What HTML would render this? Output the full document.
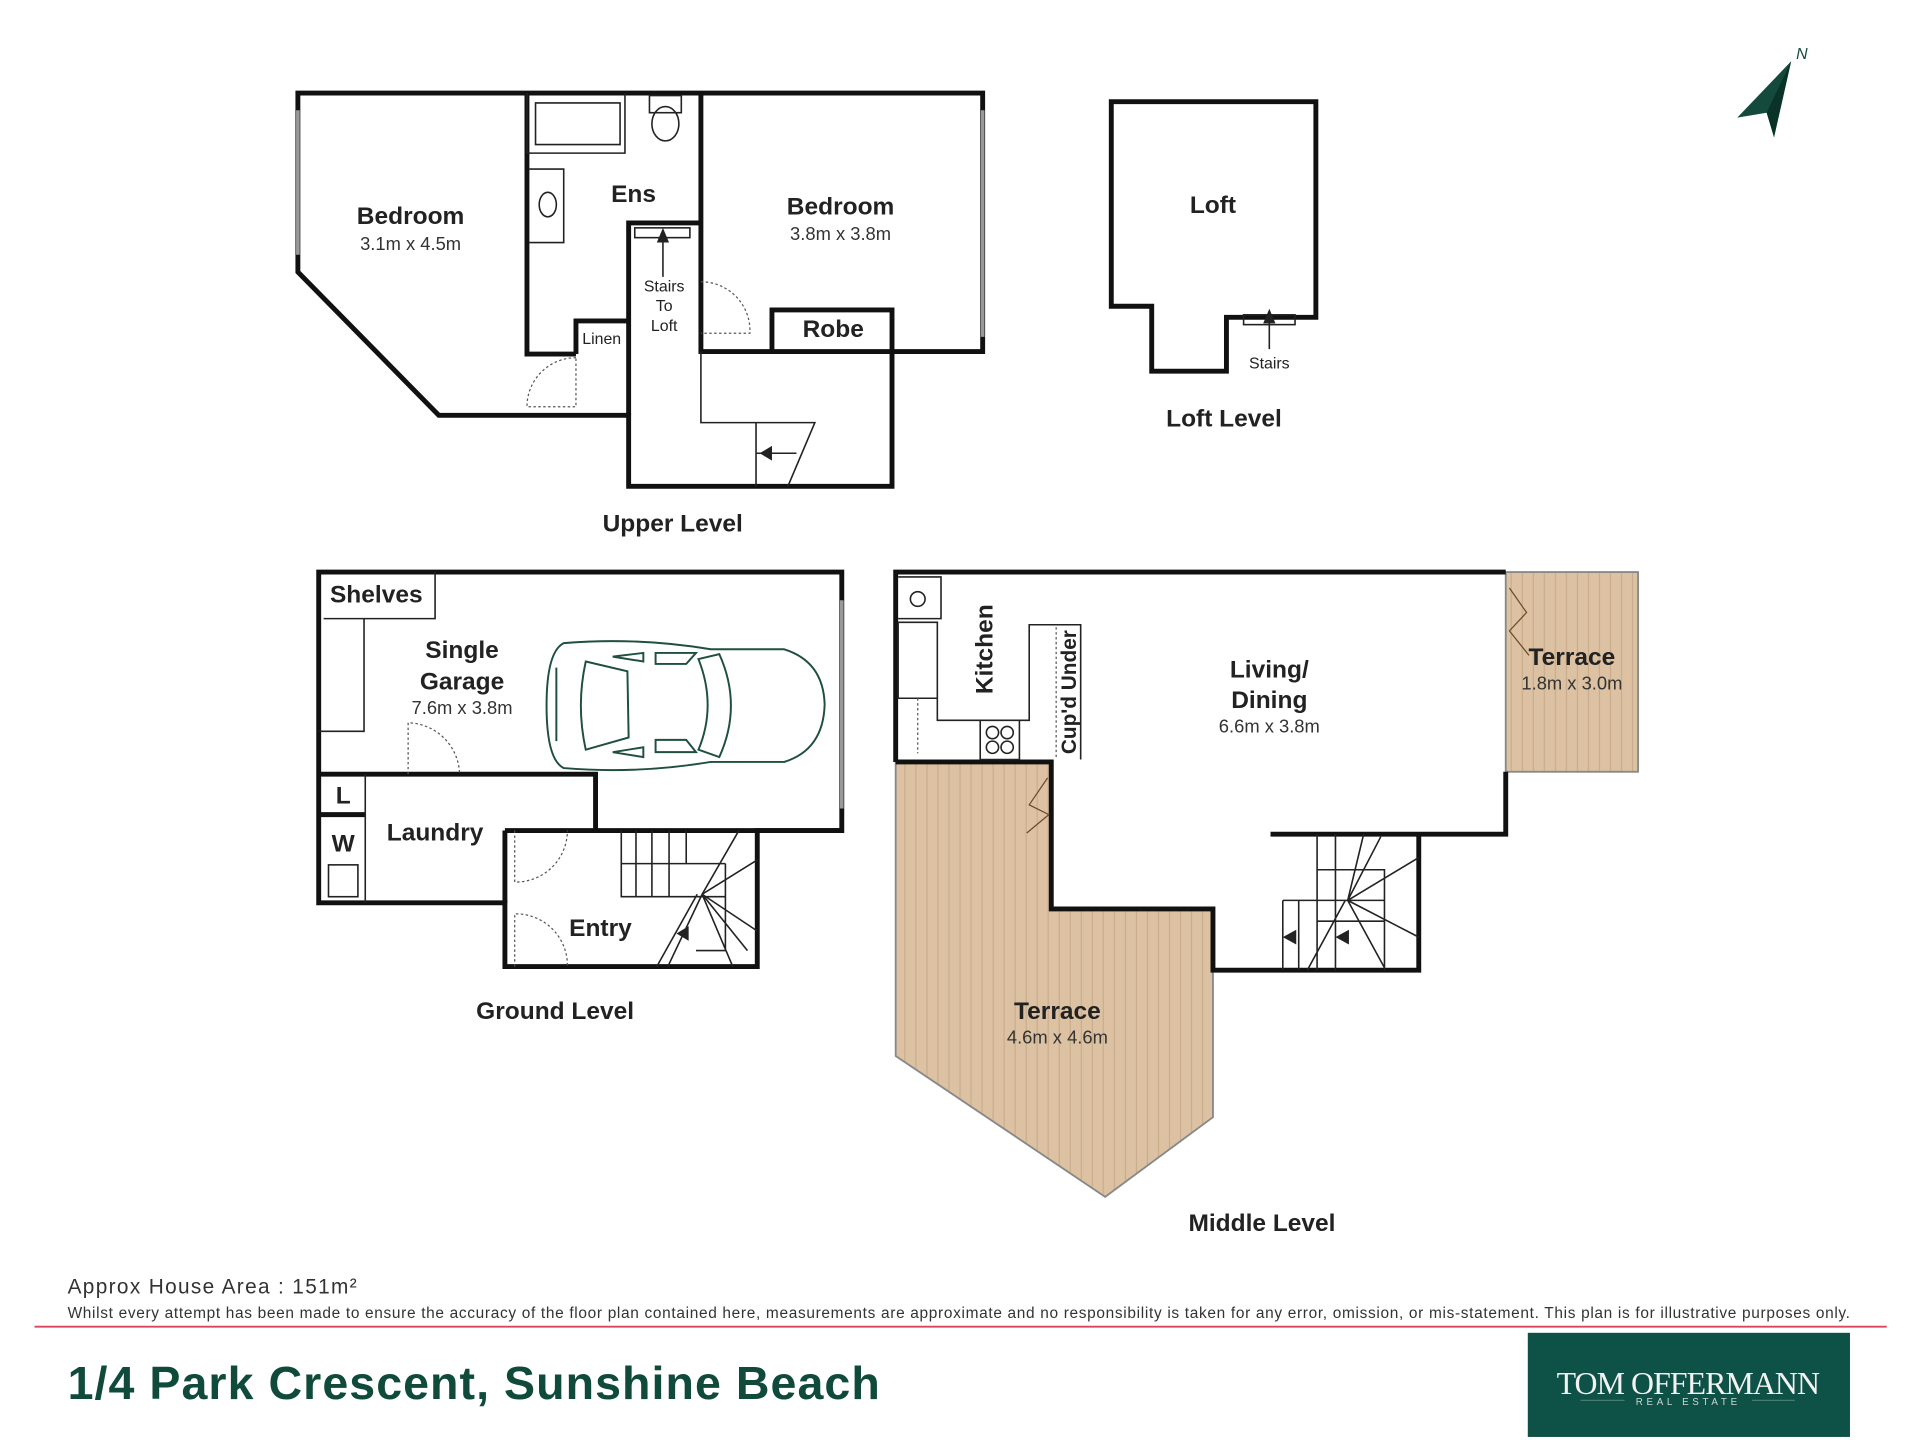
<!DOCTYPE html>
<html><head><meta charset="utf-8"><style>
html,body{margin:0;padding:0;background:#fff;width:1920px;height:1440px;overflow:hidden}
svg{display:block}
text{font-family:"Liberation Sans",sans-serif}
text.serif{font-family:"Liberation Serif",serif}
.w{fill:none;stroke:#111;stroke-width:4;stroke-linejoin:miter}
.t{fill:none;stroke:#222;stroke-width:1.3}
.d{fill:none;stroke:#555;stroke-width:1;stroke-dasharray:2 2}
.rl{font-size:20px;font-weight:bold;fill:#222;text-anchor:middle}
.dm{font-size:15px;fill:#333;text-anchor:middle}
.lv{font-size:20px;font-weight:bold;fill:#222;text-anchor:middle}
.car{fill:none;stroke:#1f4f3f;stroke-width:1.6}
</style></head><body>
<svg width="1920" height="1440" viewBox="0 0 1567 1175.5" xmlns="http://www.w3.org/2000/svg">
<defs>
<pattern id="deck" width="9" height="10" patternUnits="userSpaceOnUse">
<rect width="9" height="10" fill="#dcc2a2"/><line x1="0.5" y1="0" x2="0.5" y2="10" stroke="#c5a886" stroke-width="0.8"/>
</pattern>
</defs>

<!-- North arrow -->
<polygon points="1462,50 1418,96 1442,92 1448,112" fill="#134a3c"/>
<polygon points="1462,50 1442,92 1448,112" fill="#0a3328"/>
<text x="1466" y="48" font-size="13" font-style="italic" fill="#134a3c">N</text>

<!-- UPPER LEVEL -->
<path class="w" d="M243,76 H802 V287 H728 V397 H513 V339 H358 L243,222 Z"/>
<path class="w" d="M430,76 V289 H470 M513,339 V289 M572,76 V182 H513 V289 M572,182 V287 H630 M728,287 H630 V253 H728 V287"/>
<path class="w" d="M470,289 V262 H513"/>
<path class="t" d="M572,287 V345 H665 L643,397 M617,345 V397 M617,370 H650"/>
<polygon points="620,370 630,364 630,376" fill="#222"/>
<path class="t" d="M430,76 V125 H510 V76 M437,84 H506 V118 H437 Z M432,138 H460 V198 H432"/>
<ellipse cx="447" cy="167" rx="7" ry="10" class="t"/>
<ellipse cx="543" cy="101" rx="11" ry="14" class="t"/><rect x="530" y="78" width="26" height="14" class="t"/>
<rect x="518" y="186" width="45" height="8" class="t"/>
<line x1="541" y1="194" x2="541" y2="226" class="t"/><polygon points="541,186 536,198 546,198" fill="#222"/>
<path class="d" d="M572,230 A40,40 0 0 1 612,272 H572 M470,292 A40,40 0 0 0 430,332 H470 Z"/>
<line x1="243" y1="90" x2="243" y2="208" stroke="#999" stroke-width="3"/>
<line x1="802" y1="90" x2="802" y2="275" stroke="#999" stroke-width="3"/>
<text class="rl" x="335" y="183">Bedroom</text><text class="dm" x="335" y="204">3.1m x 4.5m</text>
<text class="rl" x="517" y="165">Ens</text>
<text class="rl" x="686" y="175">Bedroom</text><text class="dm" x="686" y="196">3.8m x 3.8m</text>
<text class="rl" x="680" y="275">Robe</text>
<text x="491" y="281" font-size="13" fill="#222" text-anchor="middle">Linen</text>
<text x="542" y="238" font-size="13" fill="#222" text-anchor="middle">Stairs</text>
<text x="542" y="254" font-size="13" fill="#222" text-anchor="middle">To</text>
<text x="542" y="270" font-size="13" fill="#222" text-anchor="middle">Loft</text>
<text class="lv" x="549" y="434">Upper Level</text>

<!-- LOFT -->
<path class="w" d="M907,83 H1074 V259 H1001 V303 H940 V250 H907 Z"/>
<rect x="1015" y="257" width="42" height="8" class="t"/>
<line x1="1036" y1="258" x2="1036" y2="285" class="t"/><polygon points="1036,252 1031,264 1041,264" fill="#222"/>
<text class="rl" x="990" y="174">Loft</text>
<text x="1036" y="301" font-size="13" fill="#222" text-anchor="middle">Stairs</text>
<text class="lv" x="999" y="348">Loft Level</text>

<!-- GROUND LEVEL -->
<path class="w" d="M260,467 H687 V678 H618 V789 H412 V737 H260 Z"/>
<path class="w" d="M260,632 H486 V678 M412,678 H687 M412,678 V737 M260,665 H298"/>
<path class="t" d="M260,597 H297 V505 H355 V467 M298,632 V737 M264,505 H355"/>
<path class="t" d="M507,678 V732 H592 M507,705 H592 M519,678 V732 M532,678 V732 M546,678 V732 M560,678 V705 M592,705 V776 H568 M573,730 L618,702 M573,730 L618,760 M573,730 L603,678 M573,730 L598,789 M573,730 L610,776 M573,730 L545,789 M569,730 L536,789"/>
<polygon points="552,762 562,756 562,768" fill="#222"/>
<path class="d" d="M333,632 V590 A43,43 0 0 1 375,632 M420,678 V720 A42,42 0 0 0 463,678 M420,789 V746 A42,42 0 0 1 463,789"/>
<rect x="268" y="706" width="24" height="26" class="t"/>
<line x1="687" y1="490" x2="687" y2="660" stroke="#999" stroke-width="3"/>
<!-- car -->
<path class="car" d="M460,525 Q520,520 580,530 L640,530 Q672,540 673,575 Q672,612 640,622 L580,622 Q520,632 460,627 Q446,620 446,576 Q446,532 460,525 Z"/>
<path class="car" d="M478,540 L512,548 L513,602 L478,612 Q470,576 478,540 Z M570,538 Q585,576 570,612 L587,618 Q606,576 587,534 Z"/>
<path class="car" d="M454,545 V605 M500,536 L525,533 V540 Z M535,533 H568 L560,542 H535 Z M535,604 H560 L568,614 H535 Z M500,614 L525,618 V610 Z"/>
<text class="rl" x="307" y="492">Shelves</text>
<text class="rl" x="377" y="537">Single</text><text class="rl" x="377" y="563">Garage</text>
<text class="dm" x="377" y="583">7.6m x 3.8m</text>
<text class="rl" x="280" y="656">L</text><text class="rl" x="280" y="695">W</text>
<text class="rl" x="355" y="686">Laundry</text>
<text class="rl" x="490" y="764">Entry</text>
<text class="lv" x="453" y="832">Ground Level</text>

<!-- MIDDLE LEVEL -->
<polygon points="731,622 858,622 858,742 990,742 990,912 902,977 731,862" fill="url(#deck)" stroke="#888" stroke-width="1.5"/>
<rect x="1229" y="467" width="108" height="163" fill="url(#deck)" stroke="#888" stroke-width="1.5"/>
<path class="w" d="M731,622 V467 H1229 M1229,630 V681 H1158 V792 H990 V742 H858 V622 H731 M1037,681 H1158"/>
<path class="t" d="M733,471 H768 V505 H733 M733,508 H765 V570 H733 Z M765,508 V588 H840 V510 H882 V620 M800,588 V620 H832 V588"/>
<path class="d" d="M749,570 V615 M862,512 V618"/>
<circle cx="749" cy="489" r="6" class="t"/>
<circle cx="810" cy="598" r="5" class="t"/><circle cx="822" cy="598" r="5" class="t"/><circle cx="810" cy="610" r="5" class="t"/><circle cx="822" cy="610" r="5" class="t"/>
<path class="t" d="M1075,681 V752 H1130 M1075,710 H1130 V792 M1047,735 H1130 M1047,735 V792 M1060,735 V792 M1075,735 V792 M1090,681 V792 M1100,735 L1130,790 M1100,735 L1158,765 M1100,735 L1158,700 M1100,735 L1127,683 M1100,735 L1113,681 M1098,735 L1067,792"/>
<polygon points="1047,765 1058,759 1058,771" fill="#222"/><polygon points="1090,765 1101,759 1101,771" fill="#222"/>
<path d="M1232,480 L1246,500 L1232,515 L1248,535 M855,635 L840,657 L856,665 L838,680" fill="none" stroke="#6b4a2a" stroke-width="1"/>
<text class="rl" transform="translate(810,530) rotate(-90)" x="0" y="0">Kitchen</text>
<text font-size="17" font-weight="bold" fill="#222" text-anchor="middle" transform="translate(878,565) rotate(-90)">Cup'd Under</text>
<text class="rl" x="1036" y="553">Living/</text><text class="rl" x="1036" y="578">Dining</text>
<text class="dm" x="1036" y="598">6.6m x 3.8m</text>
<text class="rl" x="1283" y="543">Terrace</text><text class="dm" x="1283" y="563">1.8m x 3.0m</text>
<text class="rl" x="863" y="832">Terrace</text><text class="dm" x="863" y="852">4.6m x 4.6m</text>
<text class="lv" x="1030" y="1005">Middle Level</text>

<!-- footer -->
<text x="55" y="1056" font-size="17" fill="#333" textLength="236">Approx House Area : 151m²</text>
<text x="55" y="1076" font-size="12.6" fill="#333" textLength="1455">Whilst every attempt has been made to ensure the accuracy of the floor plan contained here, measurements are approximate and no responsibility is taken for any error, omission, or mis-statement. This plan is for illustrative purposes only.</text>
<line x1="28" y1="1083" x2="1540" y2="1083" stroke="#d9455f" stroke-width="1.5"/>
<text x="55" y="1142" font-size="38" font-weight="bold" fill="#0f4a3b" textLength="663">1/4 Park Crescent, Sunshine Beach</text>
<rect x="1247" y="1088" width="263" height="85" fill="#0e5146"/>
<text class="serif" x="1378" y="1138" font-size="26" fill="#f2f2f2" text-anchor="middle" textLength="215">TOM OFFERMANN</text>
<line x1="1290" y1="1143" x2="1465" y2="1143" stroke="#7fa59a" stroke-width="0.6"/>
<rect x="1326" y="1138" width="104" height="10" fill="#0e5146"/>
<text x="1378" y="1147" font-size="8" fill="#c8d8d2" text-anchor="middle" letter-spacing="3">REAL ESTATE</text>
</svg>
</body></html>
